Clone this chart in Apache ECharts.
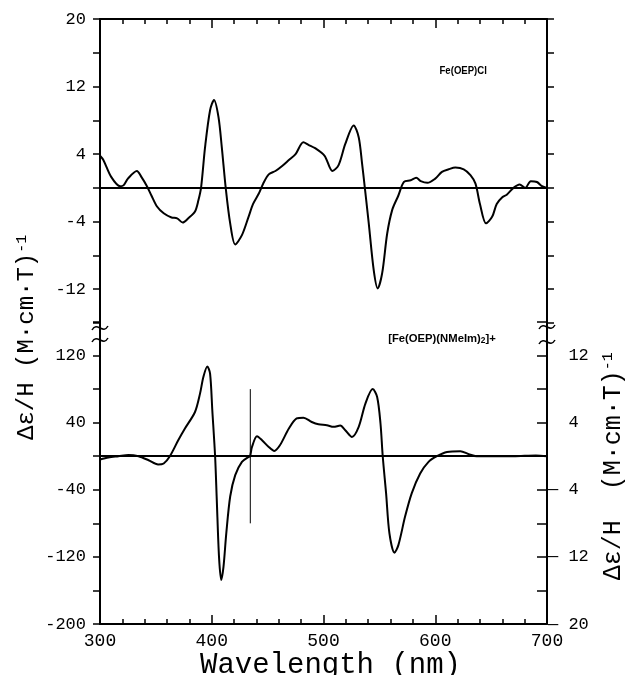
<!DOCTYPE html>
<html><head><meta charset="utf-8">
<script src="https://cdn.jsdelivr.net/npm/echarts@6/dist/echarts.min.js"></script>
<style>html,body{margin:0;padding:0;background:#fff}#c{width:626px;height:675px}</style>
</head><body><div id="c"></div>
<script>
// ---- data ----
const topWl = [300,303,310,318,321,325,333,337,342,346,351,357,364,369,374,379,385,388,390.5,394,398.5,402,406,409,412.5,416.5,421,427,433,437,442,446,451,457,463,469,475,482,486.5,492.5,501,508,513.5,519.5,527,531.5,534.5,537,540.5,545,548.5,552.5,557,561.5,567,572,578,583,587,593,600,606,612,618,625.5,631.5,636,640,645.5,651,655,660,664,670,675.5,680.5,685.5,691,695.5,700];
const topVal = [3.8,3.3,1.3,0.2,0.3,1.1,2.0,1.3,0.2,-0.9,-2.2,-3.0,-3.5,-3.6,-4.1,-3.6,-2.8,-1.5,0.1,4.8,9.2,10.4,8.4,4.8,0,-4.2,-6.7,-5.6,-3.4,-1.9,-0.7,0.5,1.6,2.0,2.6,3.3,4.0,5.4,5.1,4.7,3.8,2.0,2.7,5.2,7.4,6.0,2.9,0,-4.2,-9.8,-11.9,-10.1,-5.4,-2.6,-0.9,0.7,0.9,1.2,0.8,0.6,1.1,1.9,2.2,2.4,2.2,1.5,0.5,-1.9,-4.2,-3.4,-1.9,-1.1,-0.8,0,0.4,0,0.8,0.7,0.2,0];
const botWl = [300,307.5,316.5,325.5,334.5,343.5,352,357,362.5,370,376,385,389.5,392.5,396,398.5,400.5,403,404.5,406.5,408.5,410.5,413,416.5,421,427,433,434.3,436,440.5,445,451,456,461,469,476,482,489.5,495.5,503,509,515,519.5,525.5,531.5,537.5,544,548,551,553,556,559,563.5,567,573,579,586.5,594,601.5,610.5,622.5,630,637,650,670,690,700];
const botVal = [-4,-1.6,0,1.6,0,-4.8,-9.9,-8.7,0,19,33,52.7,74.6,94.4,107,98.4,54.8,0,-52,-120,-147.6,-132,-92,-48,-22.6,-6.7,-0.8,0,11,23.8,19,11,6.3,13,33,45,46,40.8,38,37,35,36.5,31,23,35,62.7,80,70.6,39,0,-44,-92,-115,-106,-72,-44,-20.6,-6.7,0,5,6,2.4,0,0,0,1,0];
const markerWl = [434.5, 434.5];
const markerVal = [80, -80];
const xTickLabels = [300, 400, 500, 600, 700];
const topTickLabels = [20, 12, 4, -4, -12];
const botTickLabels = [120, 40, -40, -120, -200];
const rightTickLabels = [12, 4, -4, -12, -20];
const topName = 'Fe(OEP)Cl';
const botName = ['[Fe(OEP)(NMeIm)', '2', ']+'];
const yNameLeft = ['\u0394\u03b5/H (M\u00b7cm\u00b7T)', '-1'];
const yNameRight = ['\u0394\u03b5/H  (M\u00b7cm\u00b7T)', '-1'];
const xName = 'Wavelength (nm)';

const pair = (xs, ys) => xs.map((x, i) => [x, ys[i]]);
const MONO = 'Liberation Mono';
const AX = { show: true, onZero: false, lineStyle: { color: '#000', width: 2 } };
const lab = (list, fmt) => (v) => list.includes(Math.round(v)) ? (fmt ? fmt(Math.round(v)) : String(Math.round(v))) : '';

const chart = echarts.init(document.getElementById('c'), null, { renderer: 'canvas' });
const option = {
  animation: false,
  backgroundColor: '#fff',
  grid: [
    { left: 100, right: 79, top: 19, height: 304, outerBoundsMode: 'none' },
    { left: 100, right: 79, top: 322, height: 302, outerBoundsMode: 'none' }
  ],
  xAxis: [
    { gridIndex: 0, type: 'value', position: 'top', min: 300, max: 700, interval: 100,
      axisLine: AX, axisTick: { inside: true, length: 9, lineStyle: { width: 1.5, color: '#000' } },
      minorTick: { show: true, splitNumber: 5, length: 5, lineStyle: { width: 1.5, color: '#000' } },
      axisLabel: { show: false }, splitLine: { show: false } },
    { gridIndex: 1, type: 'value', position: 'bottom', min: 300, max: 700, interval: 100,
      axisLine: AX, axisTick: { inside: true, length: 9, lineStyle: { width: 1.5, color: '#000' } },
      minorTick: { show: true, splitNumber: 5, length: 5, lineStyle: { width: 1.5, color: '#000' } },
      axisLabel: { show: true, color: '#000', fontFamily: MONO, fontSize: 18, margin: 8, formatter: lab(xTickLabels) },
      splitLine: { show: false },
      name: xName, nameLocation: 'middle', nameGap: 19,
      nameTextStyle: { color: '#000', fontFamily: MONO, fontSize: 29, padding: [0, 0, 0, 14] } }
  ],
  yAxis: [
    { gridIndex: 0, type: 'value', position: 'left', min: -16, max: 20, interval: 4,
      axisLine: AX, axisTick: { inside: false, length: 7, lineStyle: { width: 1.5, color: '#000' } },
      axisLabel: { color: '#000', fontFamily: MONO, fontSize: 17, margin: 14, formatter: lab(topTickLabels) },
      splitLine: { show: false } },
    { gridIndex: 0, type: 'value', position: 'right', min: -16, max: 20, interval: 4,
      axisLine: AX, axisTick: { inside: false, length: 7, lineStyle: { width: 1.5, color: '#000' } },
      axisLabel: { show: false }, splitLine: { show: false } },
    { gridIndex: 1, type: 'value', position: 'left', min: -200, max: 160, interval: 40,
      axisLine: AX, axisTick: { inside: false, length: 7, lineStyle: { width: 1.5, color: '#000' } },
      axisLabel: { color: '#000', fontFamily: MONO, fontSize: 17, margin: 14, formatter: lab(botTickLabels) },
      splitLine: { show: false } },
    { gridIndex: 1, type: 'value', position: 'right', min: -20, max: 16, interval: 4,
      axisLine: AX, axisTick: { inside: true, length: 10, lineStyle: { width: 1.5, color: '#000' } },
      axisLabel: { color: '#000', fontFamily: MONO, fontSize: 17, margin: 1,
        formatter: lab(rightTickLabels, v => v < 0 ? '\u2014 ' + Math.abs(v) : '  ' + v) },
      splitLine: { show: false } }
  ],
  series: [
    { type: 'line', xAxisIndex: 0, yAxisIndex: 0, data: pair(topWl, topVal), smooth: 0.3,
      symbol: 'none', lineStyle: { color: '#000', width: 2 },
      markLine: { silent: true, symbol: 'none', label: { show: false },
        lineStyle: { color: '#000', width: 2, type: 'solid' }, data: [{ yAxis: 0 }] } },
    { type: 'line', xAxisIndex: 1, yAxisIndex: 2, data: pair(botWl, botVal), smooth: 0.3,
      symbol: 'none', lineStyle: { color: '#000', width: 2 },
      markLine: { silent: true, symbol: 'none', label: { show: false },
        lineStyle: { color: '#000', width: 2, type: 'solid' }, data: [{ yAxis: 0 }] } },
    { type: 'line', xAxisIndex: 1, yAxisIndex: 2, data: pair(markerWl, markerVal),
      symbol: 'none', lineStyle: { color: '#000', width: 1 } }
  ]
};
chart.setOption(option);

// decorations positioned through the axes
const pTop = (x, y) => chart.convertToPixel({ xAxisIndex: 0, yAxisIndex: 0 }, [x, y]);
const pBot = (x, y) => chart.convertToPixel({ xAxisIndex: 1, yAxisIndex: 2 }, [x, y]);
const brk = (cx, cy) => ({
  type: 'bezierCurve', silent: true,
  shape: { x1: cx - 8, y1: cy + 2, x2: cx + 8, y2: cy - 2, cpx1: cx - 3, cpy1: cy - 7, cpx2: cx + 3, cpy2: cy + 7 },
  style: { stroke: '#000', lineWidth: 1.5, fill: null }
});
const L = pTop(300, -16), R = pTop(700, -16);
const a1 = pTop(625, 13.9), a2 = pBot(606, 140);
const yl = pTop(300, -17.7);
const TXT = (name, fs) => ({
  text: '{m|' + name[0] + '}{s|' + name[1] + '}', align: 'center', verticalAlign: 'middle',
  rich: { m: { fill: '#000', fontFamily: MONO, fontSize: fs }, s: { fill: '#000', fontFamily: MONO, fontSize: 15, verticalAlign: 'top' } }
});
chart.setOption({
  graphic: [
    brk(L[0], L[1] + 5), brk(L[0], L[1] + 17),
    brk(R[0], R[1] + 4), brk(R[0], R[1] + 19),
    { type: 'text', silent: true, x: a1[0], y: a1[1], scaleX: 0.87,
      style: { text: topName, fill: '#000', font: 'bold 11px "Liberation Sans"', align: 'center', verticalAlign: 'middle' } },
    { type: 'text', silent: true, x: a2[0], y: a2[1], scaleX: 0.98,
      style: { text: '{m|' + botName[0] + '}{s|' + botName[1] + '}{m|' + botName[2] + '}', align: 'center', verticalAlign: 'middle',
        rich: { m: { fill: '#000', font: 'bold 11.5px "Liberation Sans"' }, s: { fill: '#000', font: 'bold 8.5px "Liberation Sans"', verticalAlign: 'bottom' } } } },
    { type: 'text', silent: true, x: 27, y: yl[1], rotation: Math.PI / 2, style: TXT(yNameLeft, 24) },
    { type: 'text', silent: true, x: 613, y: pBot(700, -12)[1], rotation: Math.PI / 2, style: TXT(yNameRight, 25) }
  ]
});
</script></body></html>
